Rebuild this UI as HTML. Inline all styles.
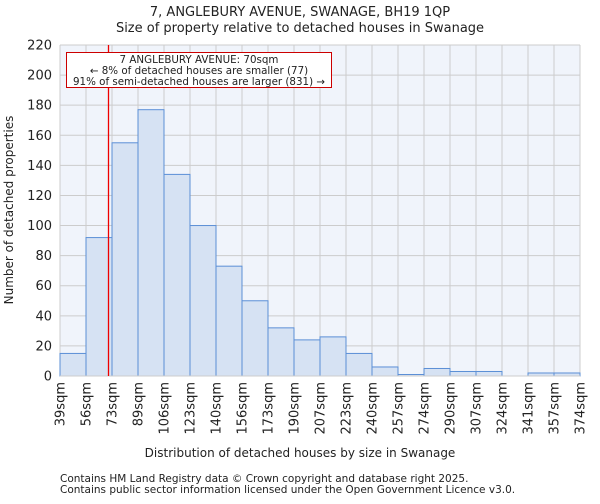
<!DOCTYPE html>
<html><head><meta charset="utf-8"><style>
body{margin:0;background:#fff;font-family:"DejaVu Sans","Liberation Sans",sans-serif}
svg text{font-family:"DejaVu Sans","Liberation Sans",sans-serif;fill:#222}
</style></head><body>
<svg id="c" width="600" height="500">
<text x="300" y="16" font-size="13" text-anchor="middle">7, ANGLEBURY AVENUE, SWANAGE, BH19 1QP</text>
<text x="300" y="32" font-size="13" text-anchor="middle">Size of property relative to detached houses in Swanage</text>
<rect x="60" y="45" width="520" height="331" fill="#f0f4fb"/>
<g id="grid"></g><g id="bars"></g><g id="axes"></g>
<text x="300" y="457" font-size="12" text-anchor="middle">Distribution of detached houses by size in Swanage</text>
<text transform="translate(13,210) rotate(-90)" font-size="12" text-anchor="middle">Number of detached properties</text>
<text x="60" y="482" font-size="10.5" fill="#444">Contains HM Land Registry data © Crown copyright and database right 2025.</text>
<text x="60" y="493" font-size="10.5" fill="#444">Contains public sector information licensed under the Open Government Licence v3.0.</text>
<g id="annot"></g>
</svg>
<script>
const categories=["39sqm","56sqm","73sqm","89sqm","106sqm","123sqm","140sqm","156sqm","173sqm","190sqm","207sqm","223sqm","240sqm","257sqm","274sqm","290sqm","307sqm","324sqm","341sqm","357sqm","374sqm"];
const counts=[15,92,155,177,134,100,73,50,32,24,26,15,6,1,5,3,3,0,2,2];
const yTicks=[0,20,40,60,80,100,120,140,160,180,200,220];
const edges=[39,56,73,89,106,123,140,156,173,190,207,223,240,257,274,290,307,324,341,357,374];
const markerValue=70;
const NS="http://www.w3.org/2000/svg";
const L=60,R=580,T=45,B=376,yMax=220;
const n=counts.length,bw=(R-L)/n;
const xs=i=>L+i*bw, ys=v=>B-(v/yMax)*(B-T);
function xv(v){for(let i=0;i<edges.length-1;i++){if(v<=edges[i+1])return xs(i)+(v-edges[i])/(edges[i+1]-edges[i])*bw;}return R;}
function mk(p,t,a){const e=document.createElementNS(NS,t);for(const k in a)e.setAttribute(k,a[k]);document.getElementById(p).appendChild(e);return e;}
yTicks.forEach(v=>{
 let g=mk('grid','line',{x1:L,x2:R,y1:ys(v),y2:ys(v),stroke:'#cccccc','stroke-width':1});
 
 let t=mk('axes','text',{x:L-8,y:ys(v)+4.5,'font-size':13,'text-anchor':'end'});t.textContent=v;
 
});
categories.forEach((c,i)=>{
 let g=mk('grid','line',{x1:xs(i),x2:xs(i),y1:T,y2:B,stroke:'#cccccc','stroke-width':1});
 
 let t=mk('axes','text',{transform:`translate(${xs(i)+4.5},${B+6}) rotate(-90)`,'font-size':13,'text-anchor':'end'});t.textContent=c;
 
});
counts.forEach((v,i)=>{
 let r=mk('bars','rect',{x:xs(i),y:ys(v),width:bw,height:B-ys(v),fill:'#d6e2f3',stroke:'#5b8fd6','stroke-width':1});
 
});
let ax=mk('axes','line',{x1:L,x2:R,y1:B,y2:B,stroke:'#cccccc'});

const mx=Math.round(xv(markerValue)+0.5)+0.5;
let ml=mk('annot','line',{x1:mx,x2:mx,y1:T,y2:B,stroke:'#ee0000','stroke-width':1.3});

let bx=mk('annot','rect',{x:66.5,y:52.5,width:265,height:35,fill:'#fff',stroke:'#cc0000','stroke-width':1});

["7 ANGLEBURY AVENUE: 70sqm","← 8% of detached houses are smaller (77)","91% of semi-detached houses are larger (831) →"].forEach((s,i)=>{
 let t=mk('annot','text',{x:199,y:63+i*11,'font-size':10.3,'text-anchor':'middle'});t.textContent=s;
 
});
</script>
</body></html>
